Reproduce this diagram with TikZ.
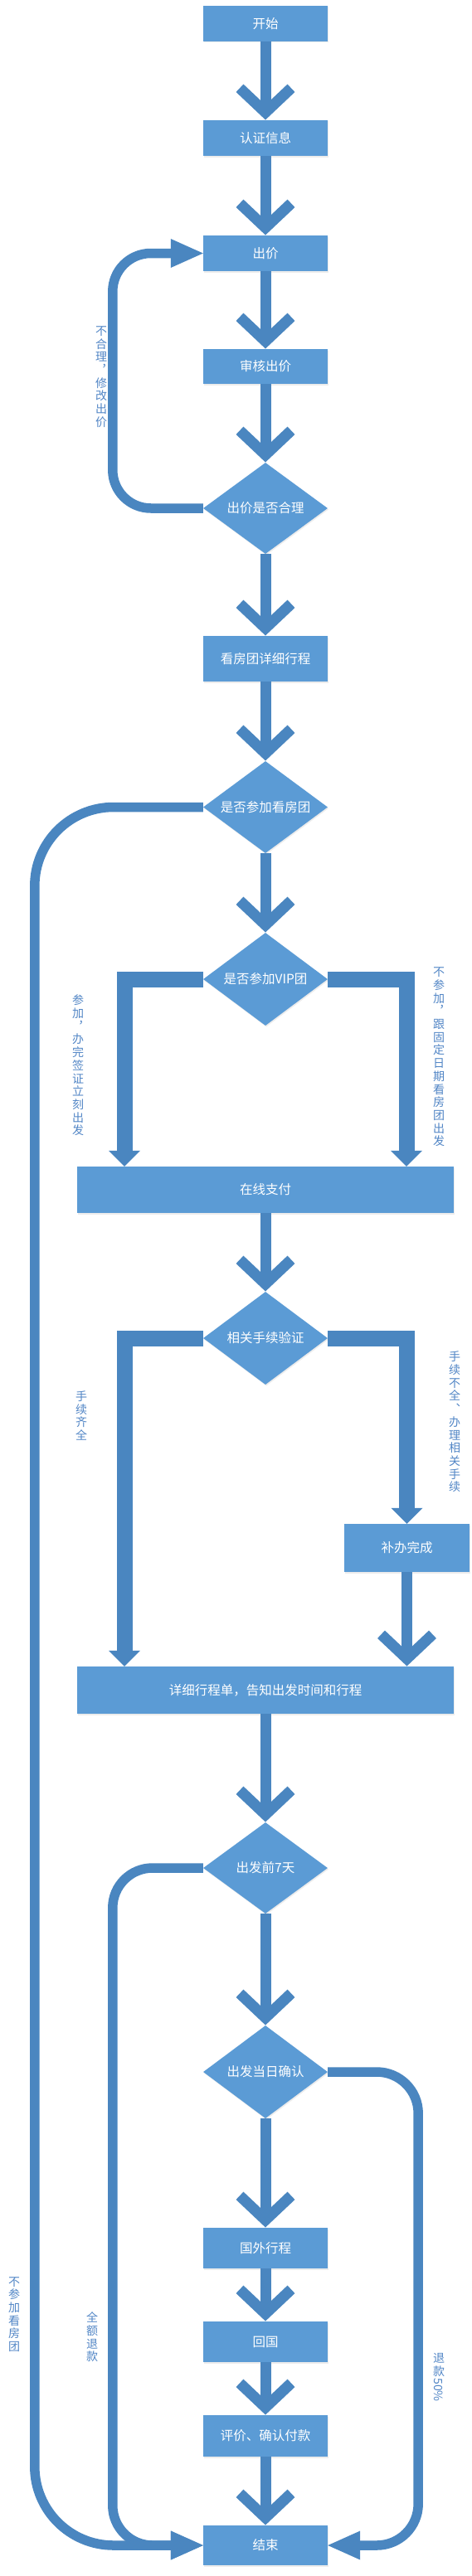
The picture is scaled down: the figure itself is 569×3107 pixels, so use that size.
\documentclass[tikz,border=0pt]{standalone}
\usepackage{fontspec}
\usepackage{graphicx}
\newfontfamily\cjk{Noto Sans CJK SC}
\usetikzlibrary{shapes.geometric,arrows.meta,shadows}
\definecolor{boxblue}{RGB}{91,155,213}
\definecolor{lineblue}{RGB}{74,134,192}
\definecolor{labelblue}{RGB}{82,134,198}
\newcommand{\mychev}[1]{\draw[chev] ([shift={(-31,-38.5)}]#1) -- ([shift={(0,-9.2)}]#1) -- ([shift={(31,-38.5)}]#1);}
\begin{document}
\begin{tikzpicture}[x=1pt,y=-1pt,
  box/.style={rectangle, fill=boxblue, text=white, font=\cjk\fontsize{15.5}{18}\selectfont,
    minimum width=150pt, inner sep=0pt,
    drop shadow={shadow xshift=1pt, shadow yshift=-1.5pt, opacity=0.15}},
  dia/.style={diamond, aspect=1.36, fill=boxblue, text=white, font=\cjk\fontsize{15.5}{18}\selectfont,
    minimum width=150pt, minimum height=110pt, inner sep=0pt,
    drop shadow={shadow xshift=1pt, shadow yshift=-1.5pt, opacity=0.15}},
  shaft/.style={draw=lineblue, line width=13pt, shorten >=12pt},
  chev/.style={draw=lineblue, line width=13pt, miter limit=10},
  elbow/.style={draw=lineblue, line width=19pt, -{Triangle[length=19pt,width=38pt,line width=0pt]}},
  loopline/.style={draw=lineblue, line width=11.5pt, -{Triangle[length=39pt,width=35pt,line width=0pt]}},
  lbl/.style={text=labelblue, font=\cjk\fontsize{14}{15.7}\selectfont, align=center, inner sep=0pt}
]
\fill[white] (0,0) rectangle (569,3107);
\useasboundingbox (0,0) rectangle (569,3107);

% nodes
\node[box, minimum height=43pt] (start) at (320,28.5) {开始};
\node[box, minimum height=43pt] (auth) at (320,166.5) {认证信息};
\node[box, minimum height=43pt] (bid) at (320,305.5) {出价};
\node[box, minimum height=42pt] (review) at (320,442) {审核出价};
\node[dia] (d1) at (320,613) {出价是否合理};
\node[box, minimum height=55pt] (itin) at (320,794.5) {看房团详细行程};
\node[dia, minimum height=111pt] (d2) at (320,973.5) {是否参加看房团};
\node[dia, minimum height=112pt] (d3) at (320,1181) {是否参加VIP团};
\node[box, minimum width=454pt, minimum height=56pt] (pay) at (320,1435) {在线支付};
\node[dia, minimum height=112pt] (d4) at (320,1614) {相关手续验证};
\node[box, minimum width=151pt, minimum height=58pt] (fix) at (490.5,1867) {补办完成};
\node[box, minimum width=454pt, minimum height=57pt] (plan) at (320,2038.5) {详细行程单，告知出发时间和行程};
\node[dia] (d5) at (320,2253) {出发前7天};
\node[dia, minimum height=112pt] (d6) at (320,2499) {出发当日确认};
\node[box, minimum height=49pt] (abroad) at (320,2711.5) {国外行程};
\node[box, minimum height=49pt] (home) at (320,2824.5) {回国};
\node[box, minimum height=50pt] (eval) at (320,2938) {评价、确认付款};
\node[box, minimum height=48pt] (end) at (320,3070) {结束};

% straight connectors with chevron heads
\draw[shaft] (start.south) -- (auth.north); \mychev{auth.north}
\draw[shaft] (auth.south) -- (bid.north); \mychev{bid.north}
\draw[shaft] (bid.south) -- (review.north); \mychev{review.north}
\draw[shaft] (review.south) -- (d1.north); \mychev{d1.north}
\draw[shaft] (d1.south) -- (itin.north); \mychev{itin.north}
\draw[shaft] (itin.south) -- (d2.north); \mychev{d2.north}
\draw[shaft] (d2.south) -- (d3.north); \mychev{d3.north}
\draw[shaft] (pay.south) -- (d4.north); \mychev{d4.north}
\coordinate (fixin) at (plan.north -| fix.south);
\draw[shaft] (fix.south) -- (fixin); \mychev{fixin}
\draw[shaft] (plan.south) -- (d5.north); \mychev{d5.north}
\draw[shaft] (d5.south) -- (d6.north); \mychev{d6.north}
\draw[shaft] (d6.south) -- (abroad.north); \mychev{abroad.north}
\draw[shaft] (abroad.south) -- (home.north); \mychev{home.north}
\draw[shaft] (home.south) -- (eval.north); \mychev{eval.north}
\draw[shaft] (eval.south) -- (end.north); \mychev{end.north}

% elbow connectors
\draw[elbow] (d3.west) -| ([xshift=-170pt]pay.north);
\draw[elbow] (d3.east) -| ([xshift=170pt]pay.north);
\draw[elbow] (d4.west) -| ([xshift=-170pt]plan.north);
\draw[elbow] (d4.east) -| (fix.north);

% rounded loops
\draw[loopline, rounded corners=46pt] (d1.west) -| ([xshift=-109pt]bid.west) -- (bid.west);
\draw[loopline, rounded corners=95pt] (d2.west) -| ([xshift=-203pt]end.west) -- (end.west);
\draw[loopline, rounded corners=48pt] (d5.west) -| ([xshift=-109pt]end.west) -- (end.west);
\draw[loopline, rounded corners=50pt] (d6.east) -| ([xshift=109pt]end.east) -- (end.east);

% labels
\node[lbl] (l1) at (122,454.5) {不\\合\\理\\︐\\修\\改\\出\\价};
\node[lbl] (l2) at (94,1285) {参\\加\\︐\\办\\完\\签\\证\\立\\刻\\出\\发};
\node[lbl] (l3) at (529,1275) {不\\参\\加\\︐\\跟\\固\\定\\日\\期\\看\\房\\团\\出\\发};
\node[lbl] (l4) at (98,1707.5) {手\\续\\齐\\全};
\node[lbl] (l5) at (548,1715) {手\\续\\不\\全\\︑\\办\\理\\相\\关\\手\\续};
\node[lbl] (l6) at (17,2791.5) {不\\参\\加\\看\\房\\团};
\node[lbl] (l7) at (111,2819) {全\\额\\退\\款};
\node[lbl] (l8) at (529,2852.5) {退\\款};
\node[lbl, rotate=-90] (l8b) at (529,2882.5) {50\%};
\end{tikzpicture}
\end{document}
